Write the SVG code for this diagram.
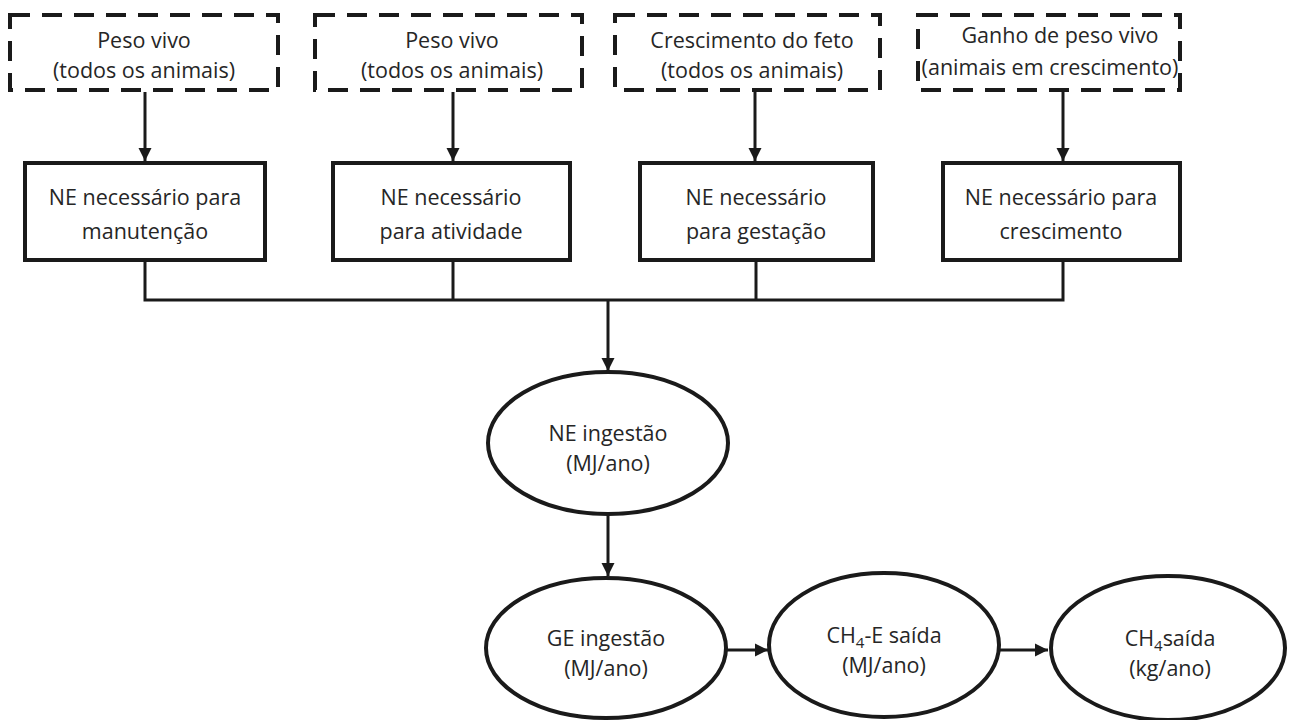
<svg xmlns="http://www.w3.org/2000/svg" width="1300" height="720" viewBox="0 0 1300 720">
<defs>
<marker id="ah" viewBox="0 0 10 10" refX="10" refY="5" markerWidth="4.5" markerHeight="4.5" orient="auto" markerUnits="strokeWidth">
<path d="M0,0 L10,5 L0,10 Z" fill="#1a1a1a"/>
</marker>
<style>
.dash{fill:#fff;stroke:#1a1a1a;stroke-width:4;stroke-dasharray:20 12}
.box{fill:#fff;stroke:#1a1a1a;stroke-width:4}
.ell{fill:#fff;stroke:#1a1a1a;stroke-width:4}
.t{font-family:"Open Sans","Noto Sans",sans-serif;font-size:21.5px;fill:#262626;text-anchor:middle}
.c{fill:none;stroke:#1a1a1a;stroke-width:3}
.a{fill:none;stroke:#1a1a1a;stroke-width:3;marker-end:url(#ah)}
</style>
</defs>
<rect width="1300" height="720" fill="#fff"/>
<g id="connectors">
<line class="a" x1="145" y1="92" x2="145" y2="161"/>
<line class="a" x1="453" y1="92" x2="453" y2="161"/>
<line class="a" x1="755" y1="92" x2="755" y2="161"/>
<line class="a" x1="1063" y1="92" x2="1063" y2="161"/>
<polyline class="c" points="145,262 145,300 1063,300 1063,262"/>
<line class="c" x1="453" y1="262" x2="453" y2="300"/>
<line class="c" x1="756" y1="262" x2="756" y2="300"/>
<line class="a" x1="608" y1="300" x2="608" y2="371"/>
<line class="a" x1="608" y1="515" x2="608" y2="576"/>
<line class="a" x1="727" y1="650" x2="768" y2="650"/>
<line class="a" x1="1000" y1="650" x2="1048" y2="650"/>
</g>
<g id="in1"><rect class="dash" x="10" y="15" width="268" height="75"/><text class="t" x="144" y="48">Peso vivo</text><text class="t" x="144" y="78">(todos os animais)</text></g>
<g id="in2"><rect class="dash" x="315" y="15" width="267" height="75"/><text class="t" x="452" y="48">Peso vivo</text><text class="t" x="452" y="78">(todos os animais)</text></g>
<g id="in3"><rect class="dash" x="615" y="15" width="265" height="75"/><text class="t" x="752" y="48">Crescimento do feto</text><text class="t" x="752" y="78">(todos os animais)</text></g>
<g id="in4"><rect class="dash" x="918" y="15" width="262" height="75"/><text class="t" x="1060" y="43">Ganho de peso vivo</text><text class="t" x="1050" y="75">(animais em crescimento)</text></g>
<g id="ne1"><rect class="box" x="25" y="163" width="240" height="97"/><text class="t" x="145" y="205">NE necessário para</text><text class="t" x="145" y="239">manutenção</text></g>
<g id="ne2"><rect class="box" x="333" y="163" width="237" height="97"/><text class="t" x="451" y="205">NE necessário</text><text class="t" x="451" y="239">para atividade</text></g>
<g id="ne3"><rect class="box" x="640" y="163" width="233" height="97"/><text class="t" x="756" y="205">NE necessário</text><text class="t" x="756" y="239">para gestação</text></g>
<g id="ne4"><rect class="box" x="943" y="163" width="237" height="97"/><text class="t" x="1061" y="205">NE necessário para</text><text class="t" x="1061" y="239">crescimento</text></g>
<g id="neint"><ellipse class="ell" cx="608" cy="443" rx="120" ry="71"/><text class="t" x="608" y="441">NE ingestão</text><text class="t" x="608" y="471">(MJ/ano)</text></g>
<g id="geint"><ellipse class="ell" cx="606" cy="648" rx="120" ry="70"/><text class="t" x="606" y="646">GE ingestão</text><text class="t" x="606" y="676">(MJ/ano)</text></g>
<g id="ch4e"><ellipse class="ell" cx="884" cy="645" rx="115" ry="72"/><text class="t" x="884" y="643">CH<tspan font-size="15" dy="5">4</tspan><tspan dy="-5">-E saída</tspan></text><text class="t" x="884" y="673">(MJ/ano)</text></g>
<g id="ch4"><ellipse class="ell" cx="1168" cy="648" rx="117" ry="72"/><text class="t" x="1170" y="646">CH<tspan font-size="15" dy="5">4</tspan><tspan dy="-5">saída</tspan></text><text class="t" x="1170" y="676">(kg/ano)</text></g>
</svg>
